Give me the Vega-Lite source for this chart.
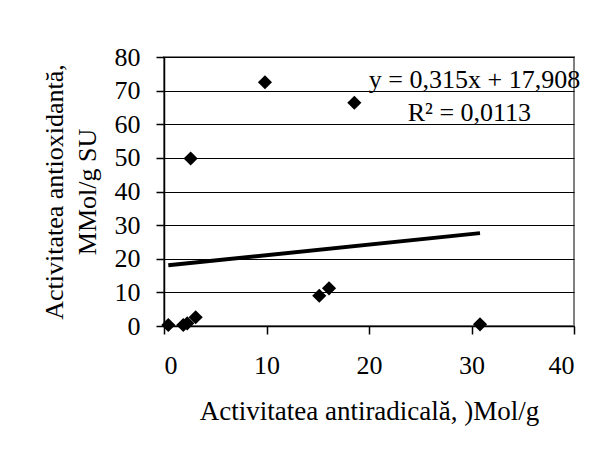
{
  "$schema": "https://vega.github.io/schema/vega-lite/v6.json",
  "width": 410,
  "height": 269,
  "autosize": {"type": "none"},
  "padding": {"left": 164, "top": 57, "right": 26, "bottom": 125},
  "background": "white",
  "config": {
    "view": {"stroke": "#808080", "strokeWidth": 2},
    "font": "Liberation Serif",
    "axis": {
      "labelFont": "Liberation Serif",
      "titleFont": "Liberation Serif",
      "labelFontSize": 26,
      "titleFontSize": 26,
      "titleFontWeight": "normal",
      "labelColor": "black",
      "titleColor": "black",
      "domainColor": "black",
      "domainWidth": 1.5,
      "tickColor": "black",
      "tickWidth": 1.5,
      "tickSize": 8,
      "gridColor": "black",
      "gridWidth": 1,
      "gridOpacity": 1,
      "labelOverlap": false
    }
  },
  "datasets": {
    "points": [
      {"x": 0.42, "y": 0.3},
      {"x": 1.88, "y": 0.3},
      {"x": 2.27, "y": 0.8},
      {"x": 3.09, "y": 2.6},
      {"x": 2.6, "y": 49.8},
      {"x": 9.85, "y": 72.5},
      {"x": 18.57, "y": 66.4},
      {"x": 15.15, "y": 9.0},
      {"x": 16.1, "y": 11.2},
      {"x": 30.83, "y": 0.5}
    ],
    "trend": [
      {"x": 0.42, "y": 18.04},
      {"x": 30.83, "y": 27.62}
    ],
    "notes": [
      {"label": "y = 0,315x + 17,908", "role": "eq"},
      {"label": "R² = 0,0113", "role": "r2"}
    ]
  },
  "layer": [
    {
      "data": {"name": "points"},
      "mark": {"type": "point", "shape": "diamond", "filled": true, "color": "black", "size": 200, "opacity": 1},
      "encoding": {
        "x": {
          "field": "x", "type": "quantitative",
          "scale": {"domain": [0, 40], "nice": false, "zero": true},
          "axis": {
            "values": [0, 10, 20, 30, 40],
            "tickCount": 12,
            "grid": false,
            "title": "Activitatea antiradicală, )Mol/g",
            "titleFontSize": 27,
            "titlePadding": 20,
            "labelPadding": 18
          }
        },
        "y": {
          "field": "y", "type": "quantitative",
          "scale": {"domain": [0, 80], "nice": false},
          "axis": {
            "values": [0, 10, 20, 30, 40, 50, 60, 70, 80],
            "tickCount": 12,
            "grid": true,
            "title": ["Activitatea antioxidantă,", "MMol/g SU"],
            "titleLineHeight": 33,
            "titlePadding": 14,
            "labelPadding": 16
          }
        }
      }
    },
    {
      "data": {"name": "trend"},
      "mark": {"type": "line", "color": "black", "strokeWidth": 4},
      "encoding": {
        "x": {"field": "x", "type": "quantitative"},
        "y": {"field": "y", "type": "quantitative"}
      }
    },
    {
      "data": {"name": "notes"},
      "transform": [{"filter": "datum.role === 'eq'"}],
      "mark": {"type": "text", "align": "right", "baseline": "middle", "fontSize": 26, "color": "black", "font": "Liberation Serif"},
      "encoding": {
        "x": {"datum": 40.6},
        "y": {"datum": 73.1},
        "text": {"field": "label", "type": "nominal"}
      }
    },
    {
      "data": {"name": "notes"},
      "transform": [{"filter": "datum.role === 'r2'"}],
      "mark": {"type": "text", "align": "center", "baseline": "middle", "fontSize": 26, "color": "black", "font": "Liberation Serif"},
      "encoding": {
        "x": {"datum": 29.8},
        "y": {"datum": 63.3},
        "text": {"field": "label", "type": "nominal"}
      }
    }
  ]
}
